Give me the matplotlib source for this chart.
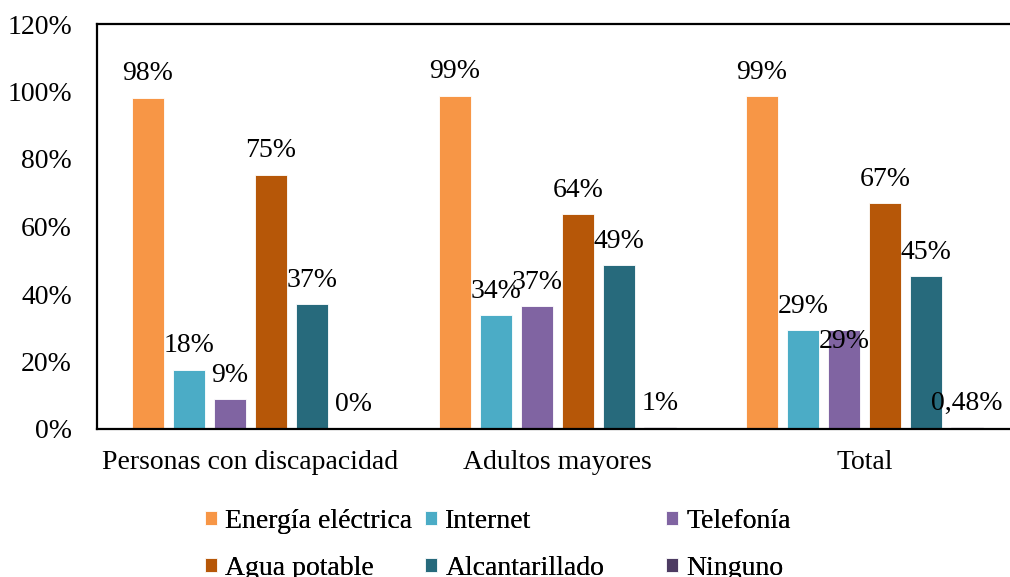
import numpy as np
import matplotlib
matplotlib.use('Agg')
import matplotlib.pyplot as plt

plt.rcParams['font.family'] = ['Liberation Serif', 'DejaVu Serif']
plt.rcParams['font.size'] = 20

# data
groups = ['Personas con discapacidad', 'Adultos mayores', 'Total']
series = ['Energía eléctrica', 'Internet', 'Telefonía',
          'Agua potable', 'Alcantarillado', 'Ninguno']
energia = [98.2, 98.8, 98.6]
internet = [17.6, 33.8, 29.3]
telefonia = [8.8, 36.5, 29.3]
agua = [75.4, 63.8, 67.0]
alcantarillado = [36.9, 48.6, 45.3]
ninguno = [0.2, 0.6, 0.48]
labels = [
    ['98%', '99%', '99%'],
    ['18%', '34%', '29%'],
    ['9%', '37%', '29%'],
    ['75%', '64%', '67%'],
    ['37%', '49%', '45%'],
    ['0%', '1%', '0,48%'],
]
colors = ['#F79646', '#4BACC6', '#8064A2', '#B65708', '#276A7C', '#4D3B62']

values = [energia, internet, telefonia, agua, alcantarillado, ninguno]

fig = plt.figure(figsize=(10.1, 5.77), dpi=100)
ax = fig.add_axes([97 / 1010, 1 - 429 / 577, 921 / 1010, 405 / 577])

x = np.arange(len(groups))
step = 0.1336
width = 0.104
handles = []
for i, (vals, col) in enumerate(zip(values, colors)):
    pos = x + (i - 2.5) * step
    bars = ax.bar(pos, vals, width, color=col, edgecolor='white',
                  linewidth=0.6, label=series[i])
    handles.append(bars)
    for j, (p, v) in enumerate(zip(pos, vals)):
        dy = 17
        # Excel pushed this label down to avoid the neighbouring one
        if i == 2 and j == 2:
            dy = -8
        ax.annotate(labels[i][j], (p, v), xytext=(0, dy),
                    textcoords='offset points', ha='center', va='center',
                    fontsize=20)

ax.set_xlim(-0.5, 2.5)
ax.set_ylim(0, 120)
ax.set_yticks(range(0, 121, 20))
ax.set_yticklabels([f'{t}%' for t in range(0, 121, 20)])
ax.set_xticks(x)
ax.set_xticklabels(groups)
ax.tick_params(axis='y', length=0, pad=18)
ax.tick_params(axis='x', length=0, pad=15)
for s in ['left', 'top', 'bottom']:
    ax.spines[s].set_linewidth(1.6)
ax.spines['right'].set_visible(False)

# legend: three columns placed separately, like the original layout
col_x = [205, 425, 666]
for c in range(3):
    idx = [c, c + 3]
    leg = fig.legend([handles[k] for k in idx], [series[k] for k in idx],
                     loc='center left',
                     bbox_to_anchor=(col_x[c] / 1010, 1 - 545 / 577),
                     frameon=False, borderpad=0, borderaxespad=0,
                     handlelength=0.43, handleheight=0.43,
                     handletextpad=0.3, labelspacing=0.8, fontsize=20)
    fig.add_artist(leg)

fig.savefig('out.png', dpi=100)
